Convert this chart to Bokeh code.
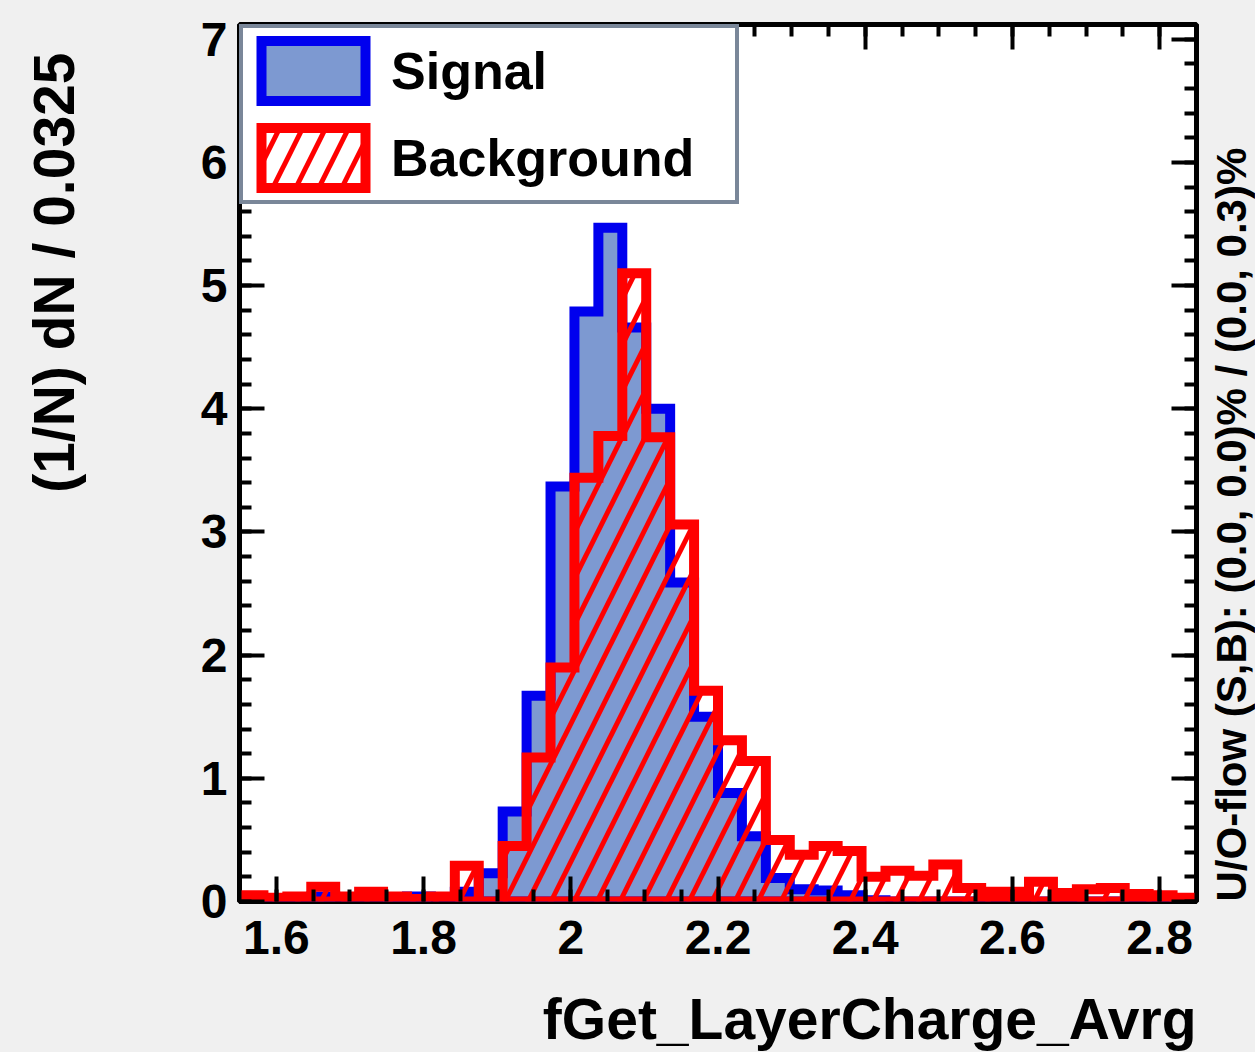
import numpy as np
from bokeh.plotting import figure
from bokeh.layouts import row
from bokeh.models import (Legend, LegendItem, LinearAxis, Range1d, Title,
                          SingleIntervalTicker, NumeralTickFormatter, FixedTicker)
from bokeh.embed import file_html
from bokeh.resources import INLINE

# ---------------- data ----------------
x_min, x_max, n_bins = 1.55, 2.85, 40

signal = [0.00, 0.00, 0.00, 0.04, 0.00, 0.00, 0.01, 0.04, 0.00, 0.08,
          0.23, 0.73, 1.67, 3.37, 4.79, 5.47, 4.66, 4.00, 2.59, 1.50,
          0.88, 0.53, 0.19, 0.10, 0.09, 0.05, 0.01, 0.00, 0.00, 0.00,
          0.00, 0.00, 0.00, 0.00, 0.00, 0.00, 0.00, 0.00, 0.00, 0.00]

background = [0.05, 0.03, 0.04, 0.12, 0.04, 0.08, 0.04, 0.02, 0.04, 0.29,
              0.00, 0.45, 1.17, 1.90, 3.44, 3.78, 5.10, 3.77, 3.06, 1.71,
              1.31, 1.14, 0.50, 0.38, 0.45, 0.41, 0.20, 0.25, 0.21, 0.30,
              0.11, 0.08, 0.08, 0.16, 0.07, 0.10, 0.11, 0.06, 0.05, 0.03]

series_labels = ["Signal", "Background"]
x_title = "fGet_LayerCharge_Avrg"
y_title = "(1/N) dN / 0.0325"
flow_text = "U/O-flow (S,B): (0.0, 0.0)% / (0.0, 0.3)%"

# ---------------- helpers ----------------
edges = np.linspace(x_min, x_max, n_bins + 1)


def step_polygon(vals):
    xs = np.repeat(edges, 2)
    ys = np.concatenate([[0.0], np.repeat(np.asarray(vals, dtype=float), 2), [0.0]])
    return xs, ys


FONT = "Liberation Sans"
SIG_FILL = "#7d99d1"
SIG_LINE = "#0000ee"
BKG_LINE = "#ff0000"
CANVAS = "#f0f0f0"
HAS_STANDOFF = "standoff" in Title.properties()

p = figure(width=1200, height=1052,
           x_range=Range1d(x_min, x_max), y_range=Range1d(0, 7.12),
           output_backend="svg", toolbar_location=None,
           min_border_left=239, min_border_right=4,
           min_border_top=24, min_border_bottom=151)
p.border_fill_color = CANVAS
p.background_fill_color = "white"
p.outline_line_color = "black"
p.outline_line_width = 5
p.grid.visible = False

# histograms
sx, sy = step_polygon(signal)
sig_r = p.patch(sx, sy, fill_color=SIG_FILL, line_color=SIG_LINE,
                line_width=10, line_join="miter")
bx, by = step_polygon(background)
bkg_r = p.patch(bx, by, fill_alpha=0, line_color=BKG_LINE, line_width=10,
                line_join="miter", hatch_pattern="/", hatch_color=BKG_LINE,
                hatch_scale=46, hatch_weight=5)


def style_axis(ax, show_labels=True):
    ax.axis_line_color = None
    ax.major_tick_line_color = "black"
    ax.minor_tick_line_color = "black"
    ax.major_tick_line_width = 4
    ax.minor_tick_line_width = 4
    ax.major_tick_in = 25
    ax.major_tick_out = 0
    ax.minor_tick_in = 12
    ax.minor_tick_out = 0
    ax.major_label_text_font = FONT
    ax.major_label_text_font_style = "bold"
    if show_labels:
        ax.major_label_text_color = "black"
        ax.major_label_text_font_size = "48px"
    else:
        ax.major_label_text_color = None
        ax.major_label_text_font_size = "1px"
        ax.major_label_standoff = 0


def spacer_axis(size, tick_at):
    # an axis whose only (invisible) tick sticks outward: it reserves space
    ax = LinearAxis(ticker=FixedTicker(ticks=[tick_at], minor_ticks=[]))
    ax.axis_line_alpha = 0
    ax.major_tick_line_alpha = 0
    ax.minor_tick_line_alpha = 0
    ax.major_tick_in = 0
    ax.minor_tick_in = 0
    ax.major_tick_out = size
    ax.minor_tick_out = 0
    ax.major_label_standoff = 0
    ax.major_label_text_color = None
    ax.major_label_text_font_size = "1px"
    return ax


xb = p.xaxis[0]
xb.ticker = SingleIntervalTicker(interval=0.2, num_minor_ticks=4)
xb.formatter = NumeralTickFormatter(format="0.[0]")
style_axis(xb)
xb.major_label_standoff = 19

yl = p.yaxis[0]
yl.ticker = SingleIntervalTicker(interval=1, num_minor_ticks=5)
style_axis(yl)
yl.major_label_standoff = 12

xt = LinearAxis(ticker=SingleIntervalTicker(interval=0.2, num_minor_ticks=4))
style_axis(xt, show_labels=False)
p.add_layout(xt, "above")

yr = LinearAxis(ticker=SingleIntervalTicker(interval=1, num_minor_ticks=5))
style_axis(yr, show_labels=False)
p.add_layout(yr, "right")

# legend
legend = Legend(items=[LegendItem(label=series_labels[0], renderers=[sig_r]),
                       LegendItem(label=series_labels[1], renderers=[bkg_r])],
                location="top_left", margin=0, padding=5, spacing=12,
                glyph_width=130, glyph_height=75, label_standoff=13,
                label_width=339,
                label_text_font=FONT, label_text_font_style="bold",
                label_text_font_size="52px", label_text_color="black",
                border_line_color="#7a8799", border_line_width=4,
                border_line_alpha=1,
                background_fill_color="white", background_fill_alpha=1)
p.add_layout(legend)

# axis titles (spacer axes push them outward)
p.add_layout(spacer_axis(28, 2.0), "below")
xt_kw = dict(text=x_title, align="right", vertical_align="bottom",
             text_font=FONT, text_font_style="bold", text_font_size="57px",
             text_color="black")
if HAS_STANDOFF:
    xt_kw["standoff"] = 0
p.add_layout(Title(**xt_kw), "below")

p.add_layout(spacer_axis(112, 1.0), "left")
yt_kw = dict(text=y_title, align="right", vertical_align="bottom", offset=28,
             text_font=FONT, text_font_style="bold", text_font_size="57px",
             text_color="black")
if HAS_STANDOFF:
    yt_kw["standoff"] = 0
p.add_layout(Title(**yt_kw), "left")

# narrow side strip carrying the over/underflow note (reads bottom-to-top)
p2 = figure(width=55, height=1052, x_range=Range1d(0, 1), y_range=Range1d(0, 1),
            output_backend="svg", toolbar_location=None,
            min_border_left=54, min_border_right=0,
            min_border_top=24, min_border_bottom=151)
p2.axis.visible = False
p2.grid.visible = False
p2.outline_line_color = None
p2.background_fill_color = CANVAS
p2.border_fill_color = CANVAS
ft_kw = dict(text=flow_text, align="left", vertical_align="bottom", offset=0,
             text_font=FONT, text_font_style="bold", text_font_size="42px",
             text_color="black")
if HAS_STANDOFF:
    ft_kw["standoff"] = 0
p2.add_layout(Title(**ft_kw), "left")

layout = row(p, p2, spacing=0)
layout.styles = {"background-color": CANVAS}
open("out.html", "w").write(file_html(layout, INLINE))
